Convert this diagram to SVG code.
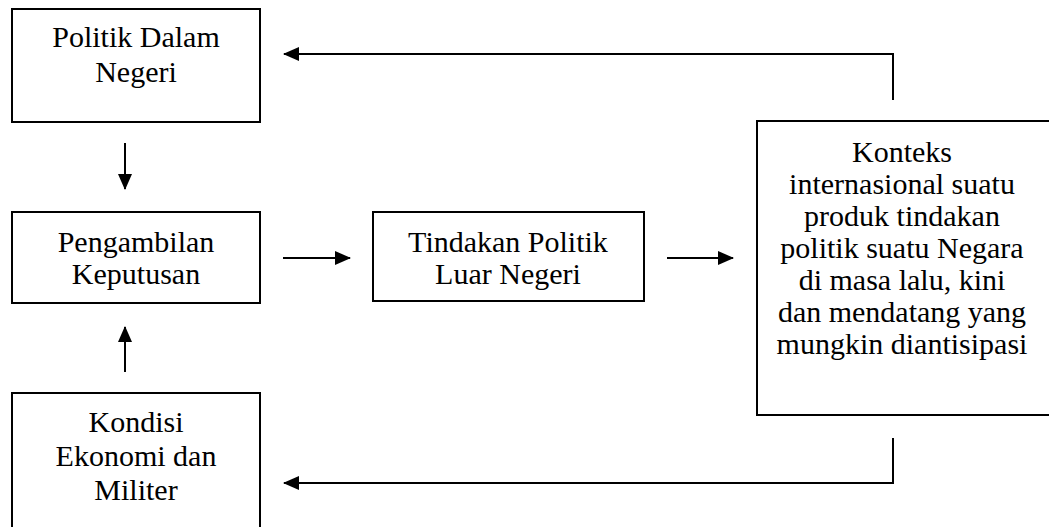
<svg xmlns="http://www.w3.org/2000/svg" width="1049" height="527" viewBox="0 0 1049 527">
<defs>
<style>
.box{fill:#fff;stroke:#000;stroke-width:2}
.t{font-family:"Liberation Serif","Times New Roman",serif;font-size:30px;fill:#000;text-anchor:middle}
.c{fill:none;stroke:#000;stroke-width:2}
</style>
<marker id="ah" viewBox="0 0 16 14" refX="15" refY="7" markerWidth="16" markerHeight="14" markerUnits="userSpaceOnUse" orient="auto">
<path d="M0,0 L16,7 L0,14 Z" fill="#000"/>
</marker>
</defs>
<rect width="1049" height="527" fill="#fff"/>
<g id="n1">
<rect class="box" x="12" y="9" width="248" height="113"/>
<text class="t" x="136" y="47">Politik Dalam</text>
<text class="t" x="136" y="82">Negeri</text>
</g>
<g id="n2">
<rect class="box" x="12" y="212" width="248" height="91"/>
<text class="t" x="136" y="252">Pengambilan</text>
<text class="t" x="136" y="284">Keputusan</text>
</g>
<g id="n3">
<rect class="box" x="373" y="212" width="271" height="89"/>
<text class="t" x="508" y="252">Tindakan Politik</text>
<text class="t" x="508" y="284">Luar Negeri</text>
</g>
<g id="n4">
<rect class="box" x="757" y="121" width="300" height="294"/>
<text class="t" x="902" y="162">Konteks</text>
<text class="t" x="902" y="194">internasional suatu</text>
<text class="t" x="902" y="226">produk tindakan</text>
<text class="t" x="902" y="258">politik suatu Negara</text>
<text class="t" x="902" y="290">di masa lalu, kini</text>
<text class="t" x="902" y="322">dan mendatang yang</text>
<text class="t" x="902" y="354">mungkin diantisipasi</text>
</g>
<g id="n5">
<rect class="box" x="12" y="393" width="248" height="140"/>
<text class="t" x="136" y="432">Kondisi</text>
<text class="t" x="136" y="466">Ekonomi dan</text>
<text class="t" x="136" y="500">Militer</text>
</g>
<g id="connectors">
<line class="c" x1="125" y1="143" x2="125" y2="189" marker-end="url(#ah)"/>
<line class="c" x1="125" y1="372" x2="125" y2="327" marker-end="url(#ah)"/>
<line class="c" x1="283" y1="258" x2="350" y2="258" marker-end="url(#ah)"/>
<line class="c" x1="667" y1="258" x2="733" y2="258" marker-end="url(#ah)"/>
<polyline class="c" points="893,100 893,54 284,54" marker-end="url(#ah)"/>
<polyline class="c" points="893,438 893,483 284,483" marker-end="url(#ah)"/>
</g>
</svg>
